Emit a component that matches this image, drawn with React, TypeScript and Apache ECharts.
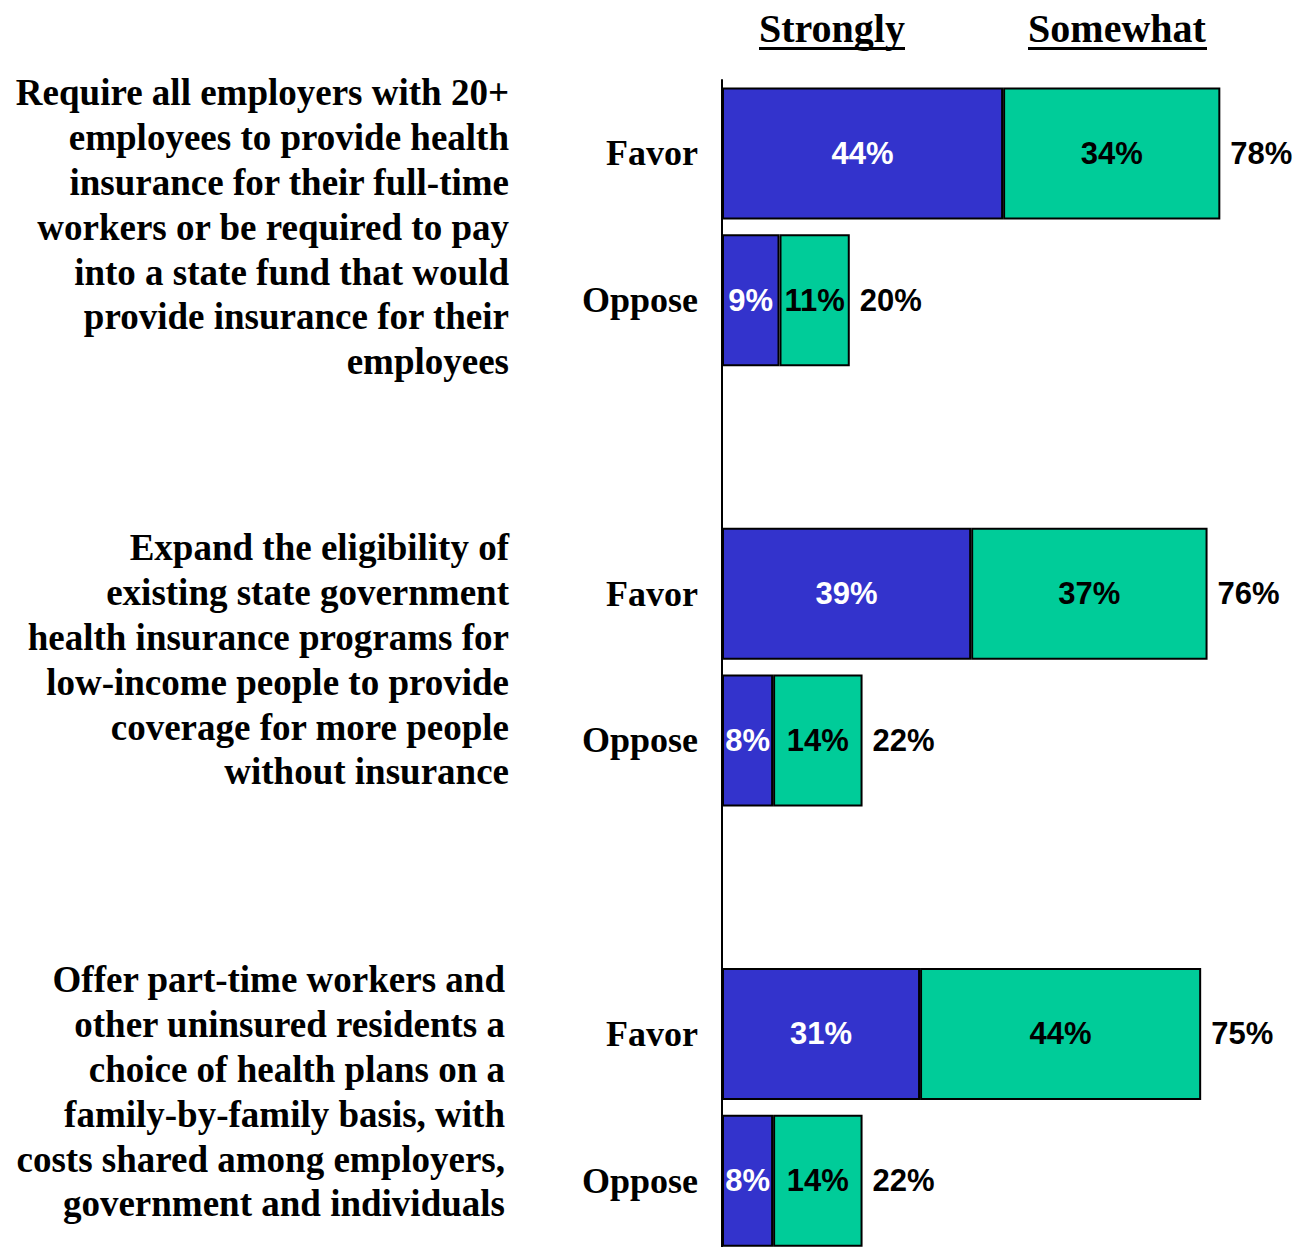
import React, { useEffect, useRef } from "react";
import * as echarts from "echarts";

const categories = ["Q1 Favor", "Q1 Oppose", "gap1", "Q2 Favor", "Q2 Oppose", "gap2", "Q3 Favor", "Q3 Oppose"];
const strongly: (number | string)[] = [44, 9, "-", 39, 8, "-", 31, 8];
const somewhat: (number | string)[] = [34, 11, "-", 37, 14, "-", 44, 14];
const totals: (number | null)[] = [78, 20, null, 76, 22, null, 75, 22];
const headers = ["Strongly", "Somewhat"];
const questions = [
  [
    "Require all employers with 20+",
    "employees to provide health",
    "insurance for their full-time",
    "workers or be required to pay",
    "into a state fund that would",
    "provide insurance for their",
    "employees",
  ],
  [
    "Expand the eligibility of",
    "existing state government",
    "health insurance programs for",
    "low-income people to provide",
    "coverage for more people",
    "without insurance",
  ],
  [
    "Offer part-time workers and",
    "other uninsured residents a",
    "choice of health plans on a",
    "family-by-family basis, with",
    "costs shared among employers,",
    "government and individuals",
  ],
];

const SERIF = "'Liberation Serif', 'Times New Roman', serif";
const SANS = "'Liberation Sans', Arial, sans-serif";

export default function App() {
  const ref = useRef<HTMLDivElement>(null);
  useEffect(() => {
    document.body.style.margin = "0";
    const chart = echarts.init(ref.current!, null, { renderer: "svg" });
    const qTops = [70.5, 525.5, 957.5];
    const qRight = [509, 509, 505];
    const graphic: any[] = [];
    questions.forEach((lines, i) => {
      graphic.push({
        type: "text",
        x: qRight[i],
        y: qTops[i],
        style: {
          text: lines.join("\n"),
          fill: "#000",
          fontSize: 37,
          fontWeight: "bold",
          fontFamily: SERIF,
          lineHeight: 44.8,
          align: "right",
          verticalAlign: "top",
        },
      });
    });
    const hx = [832, 1117];
    headers.forEach((h, i) => {
      graphic.push({
        type: "text",
        x: hx[i],
        y: 28,
        style: {
          text: h,
          fill: "#000",
          fontSize: 40,
          fontWeight: "bold",
          fontFamily: SERIF,
          align: "center",
          verticalAlign: "middle",
        },
      });
    });
    graphic.push({ type: "line", shape: { x1: 759, y1: 48.5, x2: 905, y2: 48.5 }, style: { stroke: "#000", lineWidth: 3 } });
    graphic.push({ type: "line", shape: { x1: 1028, y1: 48.5, x2: 1207, y2: 48.5 }, style: { stroke: "#000", lineWidth: 3 } });

    chart.setOption({
      animation: false,
      backgroundColor: "#fff",
      grid: { left: 722, top: 80, width: 575, height: 1174, containLabel: false, outerBoundsMode: "none" },
      xAxis: {
        type: "value",
        min: 0,
        max: 90,
        show: false,
      },
      yAxis: {
        type: "category",
        data: categories,
        inverse: true,
        axisLine: { show: true, lineStyle: { color: "#000", width: 2 } },
        axisTick: { show: false },
        splitLine: { show: false },
        axisLabel: {
          margin: 24,
          color: "#000",
          fontSize: 36,
          fontWeight: "bold",
          fontFamily: SERIF,
          formatter: (v: string) => (v.startsWith("gap") ? "" : v.split(" ")[1]),
        },
      },
      series: [
        {
          name: "Strongly",
          type: "bar",
          stack: "total",
          barWidth: 132,
          data: strongly,
          itemStyle: { color: "#3333CC", borderColor: "#000", borderWidth: 2 },
          label: {
            show: true,
            position: "inside",
            color: "#fff",
            fontSize: 31,
            fontWeight: "bold",
            fontFamily: SANS,
            formatter: (p: any) => `${p.value}%`,
          },
        },
        {
          name: "Somewhat",
          type: "bar",
          stack: "total",
          barWidth: 132,
          data: somewhat,
          itemStyle: { color: "#00CC99", borderColor: "#000", borderWidth: 2 },
          label: {
            show: true,
            position: "inside",
            color: "#000",
            fontSize: 31,
            fontWeight: "bold",
            fontFamily: SANS,
            formatter: (p: any) => `${p.value}%`,
          },
        },
        {
          name: "Total",
          type: "scatter",
          symbolSize: 0,
          itemStyle: { color: "#000", opacity: 1 },
          data: totals.map((t, i) => (t === null ? null : [t, i])).filter((d) => d !== null),
          label: {
            show: true,
            position: "right",
            distance: 10,
            color: "#000",
            opacity: 1,
            fontSize: 31,
            fontWeight: "bold",
            fontFamily: SANS,
            formatter: (p: any) => `${p.value[0]}%`,
          },
        },
      ],
      graphic,
    });
    return () => chart.dispose();
  }, []);
  return <div ref={ref} style={{ width: 1309, height: 1247 }} />;
}
